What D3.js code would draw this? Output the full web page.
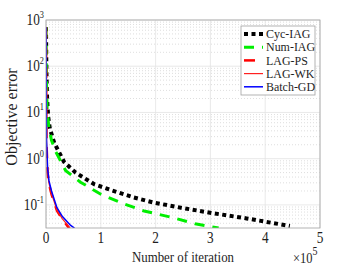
<!DOCTYPE html>
<html>
<head>
<meta charset="utf-8">
<script src="https://d3js.org/d3.v7.min.js"></script>
<style>
  body { margin:0; background:#fff; }
  text { font-family: "Liberation Serif", "Times New Roman", serif; fill:#1e1e1e; }
</style>
</head>
<body>
<script>
// iterations in units of 1e5, objective error
var cycIag = [[0,700],[0.005,150],[0.01,60],[0.02,20],[0.04,8],[0.07,4.5],[0.15,2.2],[0.33,0.85],[0.54,0.5],[0.88,0.28],[1.18,0.21],[1.6,0.145],[1.97,0.112],[2.46,0.087],[3.05,0.066],[3.66,0.051],[4.45,0.035]];
var numIag = [[0,700],[0.005,120],[0.01,40],[0.02,12],[0.05,5],[0.1,2.5],[0.18,1.4],[0.36,0.55],[0.63,0.31],[1.0,0.17],[1.42,0.105],[1.79,0.074],[2.34,0.052],[2.72,0.039],[3.15,0.0316]];
var lagPs = [[0,700],[0.003,100],[0.006,10],[0.01,2],[0.03,0.5],[0.05,0.3],[0.1,0.17],[0.2,0.075],[0.3,0.048],[0.42,0.0316]];
var lagWk = [[0,700],[0.003,100],[0.006,10],[0.01,2.2],[0.03,0.52],[0.05,0.31],[0.1,0.175],[0.2,0.078],[0.3,0.05],[0.44,0.0316]];
var batchGd = [[0,700],[0.003,100],[0.006,10],[0.01,2.5],[0.03,0.6],[0.055,0.33],[0.1,0.2],[0.2,0.087],[0.3,0.056],[0.45,0.036],[0.52,0.0316]];

var xTicks = [0,1,2,3,4,5];
var yTicks = [-1,0,1,2,3];

var series = [
  {name:"Cyc-IAG", data:cycIag, color:"#000", width:4, dash:"4,3.5"},
  {name:"Num-IAG", data:numIag, color:"#00ee00", width:3, dash:"10,8"},
  {name:"LAG-PS", data:lagPs, color:"#ff0000", width:2.5, dash:"11,9"},
  {name:"LAG-WK", data:lagWk, color:"#ff2020", width:1.2, dash:null},
  {name:"Batch-GD", data:batchGd, color:"#0000ff", width:1.5, dash:null}
];

var W = 354, H = 266;
var L = 46, R = 320, T = 20, B = 228;
var SX = 0.83; // the figure is squeezed horizontally

var svg = d3.select("body").append("svg").attr("width", W).attr("height", H);

var x = d3.scaleLinear().domain([0,5]).range([L,R]);
var y = d3.scaleLog().domain([Math.pow(10,-1.5),1000]).range([B,T]);

function hText(parent, px, py, size, anchor, sx) {
  return parent.append("g").attr("transform", "translate(" + px + "," + py + ") scale(" + (sx || SX) + ",1)")
    .append("text").attr("font-size", size).attr("text-anchor", anchor || "start");
}

// minor grid (dotted)
var minors = [];
for (var e = -2; e < 3; e++) for (var k = 2; k < 10; k++) {
  var v = k*Math.pow(10,e);
  if (v > y.domain()[0] && v < 1000) minors.push(v);
}
svg.append("g").selectAll("line").data(minors).enter().append("line")
  .attr("x1", L).attr("x2", R)
  .attr("y1", function(d){ return y(d); }).attr("y2", function(d){ return y(d); })
  .attr("stroke", "#c8c8c8").attr("stroke-width", 0.6).attr("stroke-dasharray", "1,2");

// major grid
svg.append("g").selectAll("line").data(yTicks).enter().append("line")
  .attr("x1", L).attr("x2", R)
  .attr("y1", function(d){ return y(Math.pow(10,d)); }).attr("y2", function(d){ return y(Math.pow(10,d)); })
  .attr("stroke", "#e3e3e3").attr("stroke-width", 0.8);
svg.append("g").selectAll("line").data(xTicks).enter().append("line")
  .attr("y1", T).attr("y2", B)
  .attr("x1", function(d){ return x(d); }).attr("x2", function(d){ return x(d); })
  .attr("stroke", "#e3e3e3").attr("stroke-width", 0.8);

svg.append("clipPath").attr("id", "clip").append("rect")
  .attr("x", L).attr("y", T).attr("width", R-L).attr("height", B-T);

var line = d3.line().x(function(d){ return x(d[0]); }).y(function(d){ return y(d[1]); });

svg.append("g").attr("clip-path", "url(#clip)").selectAll("path").data(series).enter().append("path")
  .attr("d", function(d){ return line(d.data); })
  .attr("fill", "none")
  .attr("stroke", function(d){ return d.color; })
  .attr("stroke-width", function(d){ return d.width; })
  .attr("stroke-dasharray", function(d){ return d.dash; });

// axes box
svg.append("rect").attr("x", L).attr("y", T).attr("width", R-L).attr("height", B-T)
  .attr("fill", "none").attr("stroke", "#a0a0a0").attr("stroke-width", 0.8);

// x ticks
xTicks.forEach(function(d){
  hText(svg, x(d), 243, 16, "middle").text(d);
});

// y ticks
yTicks.forEach(function(d){
  var t = hText(svg, 44, y(Math.pow(10,d)) + 5, 16, "end");
  t.append("tspan").text("10");
  t.append("tspan").attr("dy", -7).attr("font-size", 10).text(d);
});

// labels
hText(svg, 183, 262, 15.5, "middle").text("Number of iteration");
svg.append("text").attr("transform", "translate(17,117) rotate(-90)").attr("text-anchor", "middle")
  .attr("font-size", 16).text("Objective error");
var ex = hText(svg, 293, 263, 15, "start");
ex.append("tspan").text("\u00d710");
ex.append("tspan").attr("dy", -8).attr("font-size", 12).text("5");

// legend
var lg = svg.append("g").attr("transform", "translate(241,26)");
lg.append("rect").attr("width", 74).attr("height", 69).attr("fill", "#fff")
  .attr("stroke", "#a0a0a0").attr("stroke-width", 0.8);
series.forEach(function(d, i){
  var yy = 8 + i*13.2;
  lg.append("line").attr("x1", 3).attr("x2", 22).attr("y1", yy).attr("y2", yy)
    .attr("stroke", d.color)
    .attr("stroke-width", d.width)
    .attr("stroke-dasharray", d.dash);
  hText(lg, 25, yy + 4.2, 13, "start", 0.92).text(d.name);
});
</script>
</body>
</html>
